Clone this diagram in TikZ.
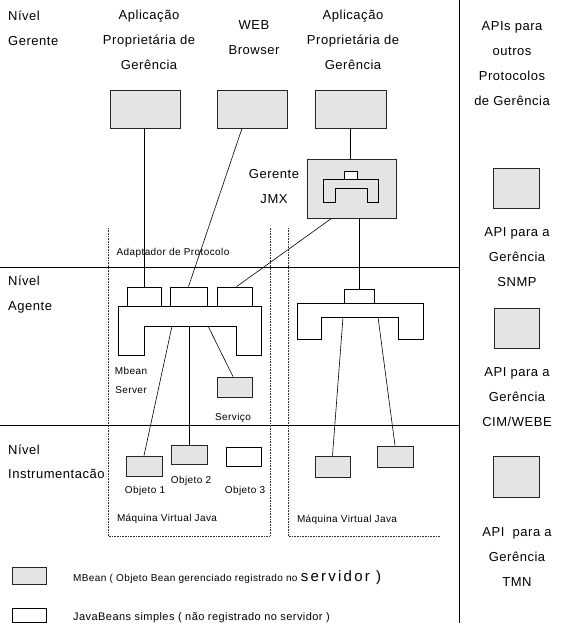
\documentclass[tikz,border=0pt]{standalone}
\usepackage{fontspec}
\setmainfont{Liberation Sans}[LetterSpace=4]
\newfontfamily\widefont{Liberation Sans}[LetterSpace=15]
\usetikzlibrary{calc}
\definecolor{mbgray}{RGB}{230,228,226}
\tikzset{
  mbean/.style={draw=black!85, line width=0.8pt, fill=mbgray, inner sep=0pt},
  jbean/.style={draw=black, line width=0.7pt, fill=white, inner sep=0pt},
  wire/.style={draw=black, line width=0.6pt},
  jvm/.style={draw=black!80, line width=0.6pt, dash pattern=on 0.7pt off 0.9pt},
  lbl/.style={font=\fontsize{13}{25}\selectfont, inner sep=0pt, align=center},
  small/.style={font=\fontsize{10}{19}\selectfont, inner sep=0pt, align=center}
}
\begin{document}
\begin{tikzpicture}[x=1pt, y=-1pt]
  \useasboundingbox (0,0) rectangle (567,637);

  % Levels and separators
  \draw[line width=0.8pt] (0,267) -- (459,267);
  \draw[line width=0.8pt] (0,425) -- (459,425);
  \draw[line width=0.8pt] (459,0) -- (459,623);
  \node[lbl, align=left, anchor=west] (lvgerente) at (8,28) {Nível\\Gerente};
  \node[lbl, align=left, anchor=west] (lvagente) at (8,295) {Nível\\Agente};
  \node[lbl, align=left, anchor=west, font=\fontsize{13}{24}\selectfont] (lvinstr) at (8,462) {Nível\\Instrumentacão};

  % Management applications
  \node[lbl] (tapp1) at (149,40) {Aplicação\\Proprietária de\\Gerência};
  \node[lbl] (tweb) at (254,38) {WEB\\Browser};
  \node[lbl] (tapp2) at (353,40) {Aplicação\\Proprietária de\\Gerência};
  \node[mbean, minimum width=70pt, minimum height=38pt] (app1) at (145,109) {};
  \node[mbean, minimum width=70pt, minimum height=38pt] (web) at (252,109) {};
  \node[mbean, minimum width=71pt, minimum height=38pt] (app2) at (350.5,109) {};

  % JMX manager
  \node[mbean, minimum width=89pt, minimum height=59pt] (jmx) at (351.5,188.5) {};
  \draw[line width=0.7pt] (323,179) -- (378,179) -- (378,202) -- (367,202) -- (367,188)
    -- (335,188) -- (335,202) -- (323,202) -- cycle;
  \draw[jbean] (344,171) rectangle (357,179);
  \node[lbl] (tjmx) at (274,187) {Gerente\\JMX};

  % Java virtual machines
  \draw[jvm] (108,228) -- (108,536) -- (270,536) -- (270,228);
  \draw[jvm] (288,228) -- (288,536) -- (440,536);
  \node[small] (tjvm1) at (167,519) {Máquina Virtual Java};
  \node[small] (tjvm2) at (347,520) {Máquina Virtual Java};

  % Protocol adaptors on the MBean server
  \node[small] (tadapt) at (173,253) {Adaptador de Protocolo};
  \foreach \nm/\x/\w in {adpA/144/34, adpB/188.5/37, adpC/234.5/35}
    \node[jbean, minimum width=\w pt, minimum height=19pt] (\nm) at (\x,296.5) {};
  \draw[line width=0.7pt] (118,306) -- (261,306) -- (261,355) -- (236,355) -- (236,326)
    -- (144,326) -- (144,355) -- (118,355) -- cycle;
  \coordinate (srvA) at (172,326);
  \coordinate (srvB) at (189,326);
  \coordinate (srvC) at (208,326);
  \node[small] (tsrv) at (131,380) {Mbean\\Server};

  % Service and objects
  \node[mbean, minimum width=35pt, minimum height=20pt] (serv) at (234.5,387) {};
  \node[small] (tserv) at (233,418) {Serviço};
  \node[mbean, minimum width=36pt, minimum height=20pt] (obj1) at (144,466) {};
  \node[mbean, minimum width=36pt, minimum height=19pt] (obj2) at (189,454.5) {};
  \node[jbean, minimum width=35pt, minimum height=19pt] (obj3) at (243.5,456.5) {};
  \node[small] (tobj1) at (145,491) {Objeto 1};
  \node[small] (tobj2) at (191,481) {Objeto 2};
  \node[small] (tobj3) at (245,491) {Objeto 3};

  % Second agent
  \node[jbean, minimum width=30pt, minimum height=14pt] (radp) at (359,296) {};
  \draw[line width=0.7pt] (297,303) -- (423,303) -- (423,339) -- (398,339) -- (398,317)
    -- (321,317) -- (321,339) -- (297,339) -- cycle;
  \coordinate (rsrvA) at (343,317);
  \coordinate (rsrvB) at (378,317);
  \node[mbean, minimum width=35pt, minimum height=21pt] (robj1) at (332.5,466.5) {};
  \node[mbean, minimum width=36pt, minimum height=21pt] (robj2) at (395,456.5) {};

  % Connections
  \draw[wire] (adpA.north |- app1.south) -- (adpA.north);
  \draw[wire] ($(web.south)+(-10,0)$) -- (adpB.north);
  \draw[wire] (app2.south) -- (app2.south |- jmx.north);
  \draw[wire] (radp.north |- jmx.south) -- (radp.north);
  \draw[wire] ($(jmx.south)+(-20,0)$) -- ($(adpC.north)+(2,0)$);
  \draw[wire] (srvA) -- (obj1.north);
  \draw[wire] (srvB) -- (obj2.north);
  \draw[wire] (srvC) -- ($(serv.north)+(-1.5,0)$);
  \draw[wire] (rsrvA) -- (robj1.north);
  \draw[wire] (rsrvB) -- (robj2.north);

  % APIs for other protocols
  \node[lbl] (tapis) at (512,64) {APIs para\\outros\\Protocolos\\de Gerência};
  \node[mbean, minimum width=46pt, minimum height=40pt] (snmp) at (516,188) {};
  \node[lbl] (tsnmp) at (517,257) {API para a\\Gerência\\SNMP};
  \node[mbean, minimum width=45pt, minimum height=40pt] (cim) at (516.5,328) {};
  \node[lbl] (tcim) at (517,397) {API para a\\Gerência\\CIM/WEBE};
  \node[mbean, minimum width=46pt, minimum height=41pt] (tmn) at (516,476.5) {};
  \node[lbl] (ttmn) at (517,557) {API~ para a\\Gerência\\TMN};

  % Legend
  \node[mbean, minimum width=34pt, minimum height=17pt] (legmb) at (29,575.5) {};
  \node[jbean, minimum width=34pt, minimum height=14pt] (legjb) at (29,615) {};
  \node[small, anchor=west] (tlegmb) at (73,578) {MBean ( Objeto Bean gerenciado registrado no {\widefont\fontsize{15}{15}\selectfont servidor )}};
  \node[small, anchor=west, font=\fontsize{11}{13}\selectfont] (tlegjb) at (73,618) {JavaBeans simples ( não registrado no servidor )};
\end{tikzpicture}
\end{document}
